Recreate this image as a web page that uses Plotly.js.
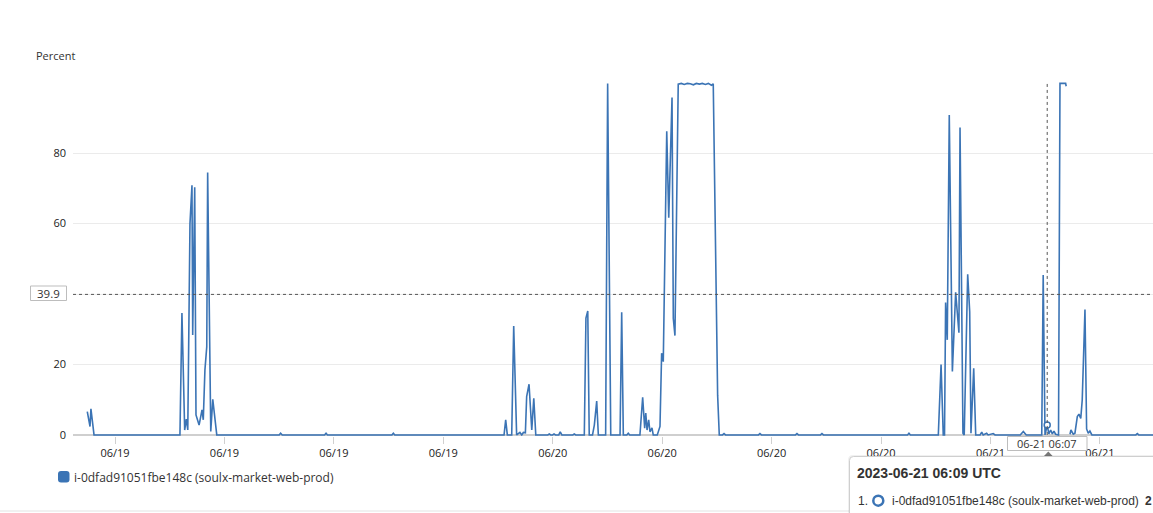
<!DOCTYPE html>
<html>
<head>
<meta charset="utf-8">
<script src="https://cdn.plot.ly/plotly-3.0.1.min.js"></script>
<style>
  html, body { margin: 0; padding: 0; background: #ffffff; overflow: hidden; }
  #chart { width: 1153px; height: 513px; }
</style>
</head>
<body>
<div id="chart"></div>
<script>
// ---- data (hours since 2023-06-19 00:00 UTC, CPU utilization %) ----
const hoursSince0619 = [
  1.48, 1.63, 1.68, 1.85, 6.56, 6.67, 6.82, 6.91, 6.99, 7.11, 7.22, 7.26, 7.37, 7.44, 7.61, 7.77, 7.84, 7.93, 8.03, 8.08, 8.25, 8.36, 8.58,
  12.00, 12.08, 12.17, 14.49, 14.57, 14.65, 18.18, 18.26, 18.34,
  24.33, 24.42, 24.51, 24.75, 24.86, 25.02, 25.20, 25.30, 25.39, 25.50, 25.57, 25.70, 25.85, 25.96, 26.07,
  26.73, 26.81, 26.89, 26.99, 27.07, 27.15, 27.33, 27.41, 27.50, 28.10, 28.18, 28.26,
  28.73, 28.82, 28.92, 29.00, 29.18, 29.28, 29.41, 29.50, 29.90, 30.01, 30.18, 30.69, 30.78, 30.87, 31.06, 31.14, 31.22,
  31.78, 31.93, 32.04, 32.10, 32.17, 32.26, 32.33, 32.44, 32.51, 32.73, 32.88, 32.97, 33.06, 33.25, 33.36, 33.54, 33.61, 33.70, 33.88,
  34.05, 34.21, 34.38, 34.54, 34.71, 34.87, 35.04, 35.20, 35.37, 35.53, 35.70, 35.80, 36.04, 36.13,
  36.31, 36.39, 36.47, 38.28, 38.36, 38.44, 40.31, 40.39, 40.47, 41.68, 41.76, 41.84, 46.45, 46.53, 46.61,
  48.14, 48.29, 48.41, 48.48, 48.54, 48.63, 48.74, 48.91, 49.09, 49.15, 49.27, 49.33, 49.49, 49.56, 49.75, 49.86, 49.93, 50.08, 50.19,
  50.43, 50.52, 50.60, 50.79, 50.87, 51.15, 51.25, 52.63, 52.80, 52.96,
  53.81, 53.89, 53.99, 54.11, 54.20, 54.30, 54.39, 54.48, 54.57, 54.73, 54.81, 55.12, 55.15, 55.25,
  55.36, 55.41, 55.54, 55.63, 55.76, 55.85, 55.95, 56.03, 56.18, 56.27, 56.36, 56.45, 56.56, 58.97, 59.05, 59.13, 60.30
];
const cpuPercent = [
  6.6, 2.4, 7.4, 0, 0, 34.6, 1.4, 4.5, 1.4, 60, 70.9, 28.4, 70.3, 5.7, 2.8, 7.1, 4.3, 18.4, 25, 74.5, 1, 10.1, 0,
  0, 0.5, 0, 0, 0.5, 0, 0, 0.5, 0,
  0, 4.3, 0, 0, 30.9, 0, 0.7, 0, 0.7, 0.6, 10.9, 14.4, 1.4, 10.4, 0,
  0, 0.3, 0, 0, 0.3, 0, 0, 0.9, 0, 0, 0.3, 0,
  0, 33.2, 35.2, 0, 0, 2.8, 9.6, 0, 0, 99.8, 0, 0, 34.8, 0, 0, 0.5, 0,
  0, 10.7, 1.9, 6.2, 1.4, 4.3, 0.9, 2.0, 0, 0, 2.4, 23.2, 20.8, 86.2, 61.7, 95.8, 33.1, 28.2, 99.6,
  99.8, 99.5, 99.8, 99.7, 99.4, 99.8, 99.6, 99.8, 99.5, 99.8, 99.3, 99.7, 11.3, 0,
  0, 0.4, 0, 0, 0.4, 0, 0, 0.4, 0, 0, 0.4, 0, 0, 0.5, 0,
  0, 20, 0, 0, 37.6, 27, 90.8, 18, 40.5, 36.9, 29, 87.3, 0.5, 0, 45.6, 35, 0.5, 18.9, 0,
  0, 0.8, 0, 0.5, 0, 0.4, 0, 0, 1.0, 0,
  0, 45.4, 0, 2.8, 0.3, 1.4, 0.3, 1.1, 0.2, 0, 99.8, 99.8, 99.0, null,
  0.2, 1.4, 0.2, 0.5, 5.2, 5.9, 4.7, 9.9, 35.6, 1.7, 0.5, 1.1, 0, 0, 0.4, 0, 0
];
const seriesName = "i-0dfad91051fbe148c (soulx-market-web-prod)";
const yTickVals = [0, 20, 40, 60, 80];
const yTickText = ["0", "20", "", "60", "80"];
const hoverHours = 54.11;      // crosshair position (06-21 06:07)
const hoverValue = 2.8;
const hoverYLevel = 39.9;      // horizontal crosshair value
const crossTimeLabel = "06-21 06:07";
const tooltipTitle = "2023-06-21 06:09 UTC";
const tooltipValue = "2";

// ---- helpers ----
const BASE = Date.UTC(2023, 5, 19);
const toMs = h => BASE + h * 3600000;
const L = 73, R = 1153, T = 82, B = 436;
const PX = x => (x - L) / (R - L);
const PY = y => (B - y) / (B - T);
const P = (x, y) => PX(x) + "," + PY(y);

const blue = "#3b74b5";
const FONT = "Open Sans, sans-serif";
const TIPFONT = "Liberation Sans, Arial, sans-serif";

const trace = {
  x: hoursSince0619.map(toMs),
  y: cpuPercent,
  type: "scatter",
  mode: "lines",
  line: { color: blue, width: 1.6 },
  connectgaps: false,
  name: seriesName,
  showlegend: false
};
const hoverDot = {
  x: [toMs(hoverHours)], y: [hoverValue],
  type: "scatter", mode: "markers",
  marker: { symbol: "circle", size: 6, color: "#ffffff", line: { color: blue, width: 1.5 } },
  showlegend: false, cliponaxis: false
};

function rr(x0, y0, x1, y1, r) {
  return "M" + P(x0 + r, y0) + " L" + P(x1 - r, y0) + " Q" + P(x1, y0) + " " + P(x1, y0 + r) +
    " L" + P(x1, y1 - r) + " Q" + P(x1, y1) + " " + P(x1 - r, y1) +
    " L" + P(x0 + r, y1) + " Q" + P(x0, y1) + " " + P(x0, y1 - r) +
    " L" + P(x0, y0 + r) + " Q" + P(x0, y0) + " " + P(x0 + r, y0) + " Z";
}

const shapes = [
  // bottom separator
  { type: "line", xref: "paper", yref: "paper", x0: PX(0), x1: PX(1153), y0: PY(511), y1: PY(511),
    line: { color: "#e3e3e3", width: 1 } },
  // crosshairs
  { type: "line", xref: "paper", yref: "y", x0: 0, x1: 1, y0: hoverYLevel, y1: hoverYLevel,
    line: { color: "#555", width: 1, dash: "dot" } },
  { type: "line", xref: "x", yref: "paper", x0: toMs(hoverHours), x1: toMs(hoverHours), y0: 0.003, y1: 1,
    line: { color: "#555", width: 1, dash: "dot" } },
  // 39.9 box
  { type: "rect", xref: "paper", yref: "paper", x0: PX(30.5), x1: PX(66.5), y0: PY(286), y1: PY(300.5),
    fillcolor: "#ffffff", line: { color: "#bdbdbd", width: 1 } },
  // time label box
  { type: "rect", xref: "paper", yref: "paper", x0: PX(1007.5), x1: PX(1087), y0: PY(436.5), y1: PY(450.5),
    fillcolor: "#ffffff", line: { color: "#bdbdbd", width: 1 } },
  // pointer triangle
  { type: "path", xref: "paper", yref: "paper",
    path: "M" + P(1044, 456) + " L" + P(1048.3, 451.5) + " L" + P(1052.6, 456) + " Z",
    fillcolor: "#777", line: { color: "#777", width: 0 } },
  // tooltip shadow + box
  { type: "path", xref: "paper", yref: "paper", path: rr(848, 455, 1170, 540, 5),
    fillcolor: "rgba(0,0,0,0.06)", line: { width: 0 } },
  { type: "path", xref: "paper", yref: "paper", path: rr(849.5, 456.5, 1170, 540, 4),
    fillcolor: "#ffffff", line: { color: "#cfcfcf", width: 1 } },
  // tooltip series ring
  { type: "circle", xref: "paper", yref: "paper", x0: PX(873.3), x1: PX(883.3), y0: PY(495.7), y1: PY(505.7),
    fillcolor: "#ffffff", line: { color: blue, width: 2.5 } },
  // legend swatch
  { type: "path", xref: "paper", yref: "paper", path: rr(58, 471, 69.5, 482.5, 3),
    fillcolor: blue, line: { width: 0 } }
];

const ann = (text, x, y, opts) => Object.assign({
  text, xref: "paper", yref: "paper", x: PX(x), y: PY(y), showarrow: false,
  xanchor: "left", yanchor: "middle", font: { family: FONT, size: 11, color: "#333" }
}, opts || {});

const annotations = [
  ann("Percent", 34, 56),
  ann(String(hoverYLevel), 48.5, 293.5, { xanchor: "center", font: { family: FONT, size: 11.5, color: "#333" } }),
  ann(crossTimeLabel, 1047.3, 443.5, { xanchor: "center", font: { family: FONT, size: 11, color: "#333" } }),
  ann("<b>" + tooltipTitle + "</b>", 855, 472.5, { font: { family: TIPFONT, size: 14, color: "#333" } }),
  ann("1.", 855.5, 500.5, { font: { family: TIPFONT, size: 12, color: "#333" } }),
  ann(seriesName, 890, 500.5, { font: { family: TIPFONT, size: 12, color: "#333" } }),
  ann("<b>" + tooltipValue + "</b>", 1143, 500.5, { font: { family: TIPFONT, size: 12, color: "#333" } }),
  ann(seriesName, 72, 477, { font: { family: FONT, size: 12, color: "#333" } })
];

const layout = {
  width: 1153, height: 513,
  margin: { l: L, r: 1153 - R, t: T, b: 513 - B, pad: 0 },
  paper_bgcolor: "#ffffff", plot_bgcolor: "#ffffff",
  font: { family: FONT, size: 11, color: "#333" },
  showlegend: false,
  xaxis: {
    type: "date",
    range: [toMs(0.697), toMs(59.91)],
    tick0: toMs(3), dtick: 6 * 3600000,
    tickformat: "%m/%d",
    showgrid: false, zeroline: false, showline: false,
    ticks: "outside", ticklen: 7, tickcolor: "#d0d0d0", tickwidth: 1,
    tickfont: { family: FONT, size: 11, color: "#222" },
    fixedrange: true
  },
  yaxis: {
    range: [-0.3, 100.2],
    tickvals: yTickVals, ticktext: yTickText,
    showgrid: true, gridcolor: "#ebebeb", gridwidth: 1,
    zeroline: true, zerolinecolor: "#cfcfcf", zerolinewidth: 2,
    showline: false, ticks: "",
    ticklabelstandoff: 6,
    tickfont: { family: FONT, size: 11, color: "#222" },
    fixedrange: true
  },
  shapes, annotations,
  hovermode: false
};

Plotly.newPlot("chart", [trace, hoverDot], layout, { staticPlot: true, displayModeBar: false });
</script>
</body>
</html>
